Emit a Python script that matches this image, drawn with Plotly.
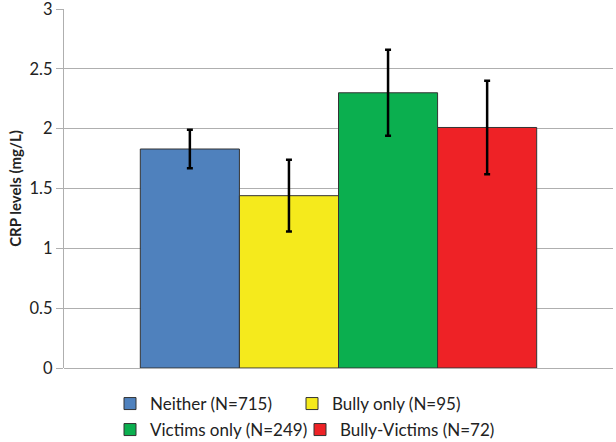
import plotly.graph_objects as go

groups = ["Neither (N=715)", "Bully only (N=95)", "Victims only (N=249)", "Bully-Victims (N=72)"]
means = [1.83, 1.44, 2.30, 2.01]
upper = [1.99, 1.74, 2.66, 2.40]
lower = [1.67, 1.14, 1.94, 1.62]
colors = ["#4F81BD", "#F5EA1C", "#0BAF4F", "#EE2226"]
legend_ids = ["legend", "legend2", "legend3", "legend4"]
yticks = [0, 0.5, 1, 1.5, 2, 2.5, 3]
ytick_labels = ["0", "0.5", "1", "1.5", "2", "2.5", "3"]

fig = go.Figure()
for name, m, u, l, c, lg in zip(groups, means, upper, lower, colors, legend_ids):
    fig.add_trace(go.Bar(
        x=["all"], y=[m], name=name, legend=lg,
        marker=dict(color=c, line=dict(color="#333333", width=1)),
        error_y=dict(type="data", symmetric=False, array=[u - m], arrayminus=[m - l],
                     color="black", thickness=2.5, width=3),
    ))

leg_common = dict(orientation="h", xref="container", yref="container",
                  xanchor="left", yanchor="middle",
                  font=dict(size=17, color="#222222"), bgcolor="rgba(0,0,0,0)")

fig.update_layout(
    width=616, height=442,
    paper_bgcolor="white", plot_bgcolor="white",
    margin=dict(l=64, r=3, t=9, b=74, autoexpand=False),
    barmode="group", bargap=0.278, bargroupgap=0,
    font=dict(family="Lato, Open Sans, sans-serif", size=16, color="#222222"),
    showlegend=True,
    legend=dict(x=110 / 616, y=1 - 404 / 442, **leg_common),
    legend2=dict(x=292 / 616, y=1 - 404 / 442, **leg_common),
    legend3=dict(x=110 / 616, y=1 - 430 / 442, **leg_common),
    legend4=dict(x=300 / 616, y=1 - 430 / 442, **leg_common),
    xaxis=dict(showticklabels=False, showgrid=False, zeroline=False, showline=False, ticks=""),
    yaxis=dict(range=[0, 3], tickvals=yticks, ticktext=ytick_labels,
               showgrid=True, gridcolor="#AFAFAF", gridwidth=1.2,
               zeroline=True, zerolinecolor="#AFAFAF", zerolinewidth=1.2,
               showline=True, linecolor="#AFAFAF", linewidth=1.2,
               ticks="outside", ticklen=7, tickcolor="#AFAFAF",
               tickfont=dict(size=16.5), ticklabeloverflow="allow",
               title=dict(text="<b>CRP levels (mg/L)</b>",
                          font=dict(size=15, weight="bold"), standoff=4)),
)

fig.write_html("out.html", config={"displayModeBar": False},
               post_script="document.body.style.margin='0';")
